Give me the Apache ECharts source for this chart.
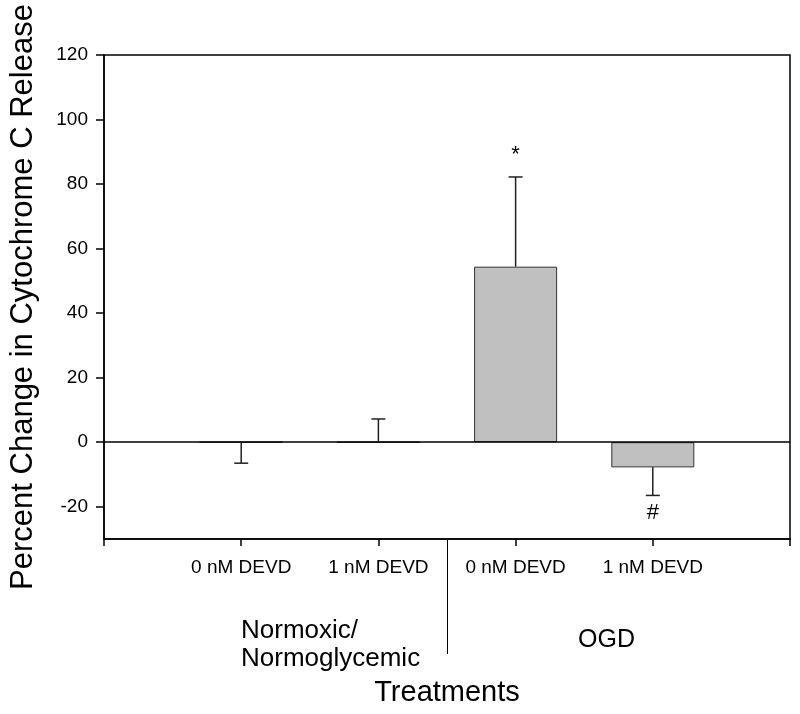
<html>
<head>
<meta charset="UTF-8">
<script src="https://cdn.jsdelivr.net/npm/echarts@6/dist/echarts.min.js"></script>
</head>
<body style="margin:0;background:#fff;">
<div id="chart" style="width:800px;height:714px;"></div>
<script type="text/javascript">
// treatment positions on the x axis and their labels
var xPos = [1, 2, 3, 4];
var xLabels = ['0 nM DEVD', '1 nM DEVD', '0 nM DEVD', '1 nM DEVD'];
// mean percent change and end of the error bar
var means = [0, 0, 54.4, -7.8];
var errEnds = [-6.5, 7.2, 82.2, -16.5];
var marks = ['', '', '*', '#'];
var yTicks = [-20, 0, 20, 40, 60, 80, 100, 120];

var font = "'Liberation Sans', Arial, sans-serif";
var chart = echarts.init(document.getElementById('chart'));

var barData = [];
var errData = [];
for (var i = 0; i < xPos.length; i++) {
    barData.push([xPos[i], means[i]]);
    errData.push([xPos[i], means[i], errEnds[i], i]);
}

var option = {
    animation: false,
    grid: {
        left: 102, right: 10, top: 55, bottom: 175,
        show: true, borderColor: '#000', borderWidth: 1.5
    },
    xAxis: {
        type: 'value', min: 0, max: 5, interval: 1,
        splitLine: {show: false},
        axisLine: {onZero: false, lineStyle: {color: '#000', width: 1.5}},
        axisTick: {inside: false, length: 7, lineStyle: {color: '#000', width: 1.5}},
        axisLabel: {
            margin: 19, fontSize: 19, color: '#000', fontFamily: font,
            formatter: function (v) { return xLabels[v - 1] || ''; }
        },
        name: 'Treatments', nameLocation: 'middle', nameGap: 139,
        nameTextStyle: {fontSize: 29, color: '#000', fontFamily: font}
    },
    yAxis: {
        type: 'value', min: -30, max: 120,
        splitLine: {show: false},
        axisLine: {lineStyle: {color: '#000', width: 1.5}},
        axisTick: {length: 8, customValues: yTicks, lineStyle: {color: '#000', width: 1.5}},
        axisLabel: {margin: 16, fontSize: 19, color: '#000', fontFamily: font, customValues: yTicks},
        name: 'Percent Change in Cytochrome C Release', nameLocation: 'middle', nameGap: 65,
        nameTextStyle: {fontSize: 31, color: '#000', fontFamily: font}
    },
    series: [
        {
            type: 'bar',
            data: barData,
            barWidth: 83,
            itemStyle: {color: '#c0c0c0', borderColor: '#333', borderWidth: 1},
            markLine: {
                silent: true, symbol: 'none', label: {show: false},
                lineStyle: {color: '#000', width: 1.5, type: 'solid'},
                data: [{yAxis: 0}]
            }
        },
        {
            type: 'custom',
            data: errData,
            z: 5,
            renderItem: function (params, api) {
                var p0 = api.coord([api.value(0), api.value(1)]);
                var p1 = api.coord([api.value(0), api.value(2)]);
                var up = api.value(2) > api.value(1);
                var m = marks[api.value(3)];
                var children = [
                    {type: 'line', shape: {x1: p0[0], y1: p0[1], x2: p1[0], y2: p1[1]},
                     style: {stroke: '#222', lineWidth: 1.5}},
                    {type: 'line', shape: {x1: p1[0] - 7, y1: p1[1], x2: p1[0] + 7, y2: p1[1]},
                     style: {stroke: '#222', lineWidth: 1.5}}
                ];
                if (m) {
                    children.push({
                        type: 'text',
                        style: {
                            text: m, x: p1[0], y: up ? p1[1] - 22 : p1[1] + 17,
                            align: 'center', verticalAlign: 'middle',
                            fontSize: 22, fill: '#000', fontFamily: font
                        }
                    });
                }
                return {type: 'group', children: children};
            }
        }
    ],
    graphic: [
        {type: 'line', shape: {x1: 447.5, y1: 540, x2: 447.5, y2: 654},
         style: {stroke: '#000', lineWidth: 1}},
        {type: 'text', left: 241, top: 617,
         style: {text: 'Normoxic/\nNormoglycemic', fontSize: 26, lineHeight: 28, fill: '#000', fontFamily: font}},
        {type: 'text', left: 578, top: 628,
         style: {text: 'OGD', fontSize: 25, fill: '#000', fontFamily: font}}
    ]
};

chart.setOption(option);
</script>
</body>
</html>
